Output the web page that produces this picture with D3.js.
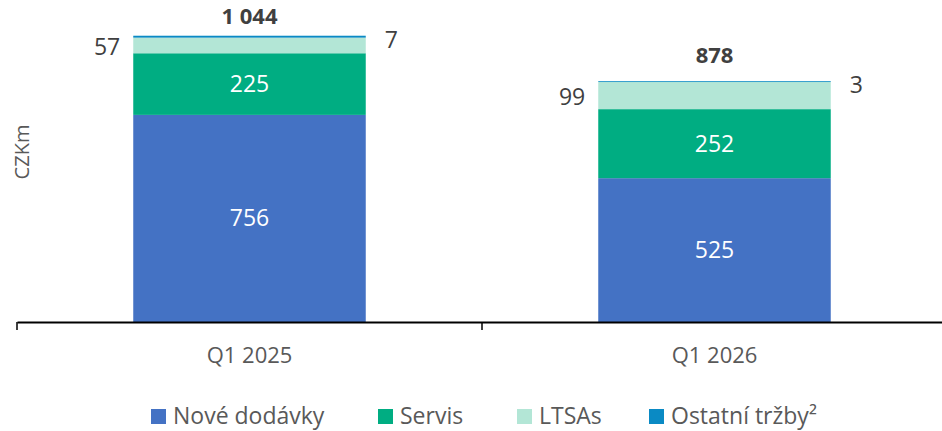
<!DOCTYPE html>
<html><head><meta charset="utf-8">
<script src="https://cdn.jsdelivr.net/npm/d3@7"></script>
<style>body{margin:0;background:#fff;}svg{display:block;font-family:"Open Sans","Noto Sans",sans-serif;}</style>
</head><body><svg id="c" width="942" height="431"></svg>
<script>
const categories = ["Q1 2025", "Q1 2026"];
const seriesNames = ["Nové dodávky", "Servis", "LTSAs", "Ostatní tržby²"];
const noveDodavky = [756, 525];
const servis = [225, 252];
const ltsas = [57, 99];
const ostatni = [7, 3];
const totals = ["1 044", "878"];
const colors = ["#4472C4", "#00AD82", "#B3E6D6", "#0A8AC4"];

const svg = d3.select("#c");
const x = d3.scaleBand().domain(categories).range([17, 947]).paddingInner(0.5).paddingOuter(0.25);
const y = d3.scaleLinear().domain([0, 1044]).range([322, 36]);

const rows = categories.map((c, i) => ({cat: c, "Nové dodávky": noveDodavky[i], "Servis": servis[i], "LTSAs": ltsas[i], "Ostatní tržby²": ostatni[i], total: totals[i]}));
const stack = d3.stack().keys(seriesNames)(rows);

const g = svg.append("g");
stack.forEach((s, si) => {
  g.selectAll(null).data(s).enter().append("rect")
    .attr("x", d => x(d.data.cat))
    .attr("width", x.bandwidth())
    .attr("y", d => y(d[1]))
    .attr("height", d => y(d[0]) - y(d[1]))
    .attr("fill", colors[si]);
});

// inside labels
[0, 1].forEach(si => {
  g.selectAll(null).data(stack[si]).enter().append("text")
    .attr("x", d => x(d.data.cat) + x.bandwidth() / 2)
    .attr("y", d => (y(d[0]) + y(d[1])) / 2)
    .attr("dy", "0.35em").attr("text-anchor", "middle")
    .attr("fill", "#fff").attr("font-size", 23)
    .text(d => d.data[seriesNames[si]]);
});
// LTSAs labels left
g.selectAll(null).data(stack[2]).enter().append("text")
  .attr("x", d => x(d.data.cat) - 13)
  .attr("y", d => (y(d[0]) + y(d[1])) / 2 + 1)
  .attr("dy", "0.35em").attr("text-anchor", "end")
  .attr("fill", "#404040").attr("font-size", 23)
  .text(d => d.data["LTSAs"]);
// Ostatní labels right
g.selectAll(null).data(stack[3]).enter().append("text")
  .attr("x", d => x(d.data.cat) + x.bandwidth() + 19)
  .attr("y", d => y(d[1]) + 4)
  .attr("dy", "0.35em").attr("text-anchor", "start")
  .attr("fill", "#404040").attr("font-size", 23)
  .text(d => d.data["Ostatní tržby²"]);
// totals
g.selectAll(null).data(stack[3]).enter().append("text")
  .attr("x", d => x(d.data.cat) + x.bandwidth() / 2)
  .attr("y", d => Math.max(y(d[1]) - 26, 16))
  .attr("dy", "0.35em").attr("text-anchor", "middle")
  .attr("fill", "#404040").attr("font-size", 22).attr("font-weight", "bold")
  .text(d => d.data.total);

// axis
const axis = svg.append("g").attr("transform", "translate(0,322)")
  .call(d3.axisBottom(x).tickSize(0).tickSizeOuter(0));
axis.select(".domain").attr("stroke", "#000").attr("stroke-width", 2);
axis.selectAll(".tick text").attr("y", 33).attr("dy", "0.35em")
  .attr("font-size", 22).attr("fill", "#595959").attr("font-family", "'Open Sans','Noto Sans',sans-serif");
// category boundary ticks
const bnds = [x.range()[0], (x(categories[0]) + x.bandwidth() + x(categories[1])) / 2, x.range()[1]];
axis.selectAll(null).data(bnds).enter().append("line")
  .attr("x1", d => d).attr("x2", d => d).attr("y1", 0).attr("y2", 8)
  .attr("stroke", "#000").attr("stroke-width", 1.5);

// y label
svg.append("text").attr("transform", "translate(22,152) rotate(-90)")
  .attr("text-anchor", "middle").attr("dy", "0.35em")
  .attr("font-size", 20).attr("fill", "#595959").text("CZKm");

// legend
const legX = [151, 378, 517, 649];
const leg = svg.append("g");
seriesNames.forEach((n, i) => {
  leg.append("rect").attr("x", legX[i]).attr("y", 409).attr("width", 15).attr("height", 15).attr("fill", colors[i]);
  leg.append("text").attr("x", legX[i] + 22).attr("y", 424)
    .attr("font-size", 23).attr("fill", "#595959").text(n);
});
</script></body></html>
